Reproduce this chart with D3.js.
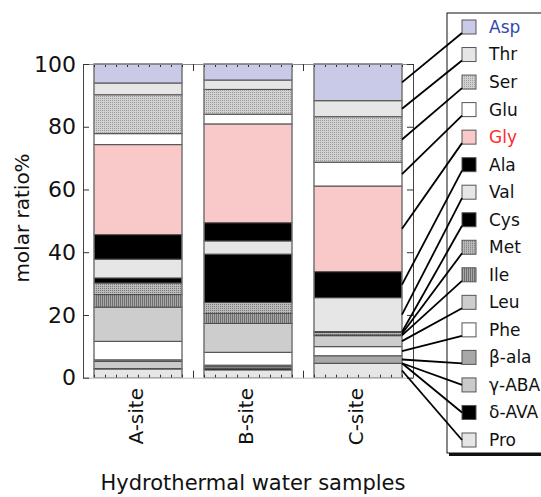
<!DOCTYPE html>
<html>
<head>
<meta charset="utf-8">
<script src="https://cdn.jsdelivr.net/npm/d3@7"></script>
<style>
  body { margin: 0; background: #fff; }
  text { font-family: "DejaVu Sans", sans-serif; }
</style>
</head>
<body>
<div id="chart"></div>
<script>
var sites = ['A-site', 'B-site', 'C-site'];
// legend order, top to bottom (stack order is the reverse)
var acids = ['Asp', 'Thr', 'Ser', 'Glu', 'Gly', 'Ala', 'Val', 'Cys', 'Met', 'Ile', 'Leu', 'Phe', 'β-ala', 'γ-ABA', 'δ-AVA', 'Pro'];
var aSite = [6.05, 3.75, 12.4, 3.5, 28.7, 7.8, 6.0, 1.6, 3.7, 4.0, 10.9, 5.9, 0.5, 2.3, 0.1, 2.8];
var bSite = [5.1, 3.0, 7.9, 3.1, 31.5, 5.8, 4.2, 15.4, 3.5, 3.2, 9.2, 4.1, 0.5, 0.5, 0.5, 2.5];
var cSite = [11.7, 5.1, 14.5, 7.6, 27.3, 8.3, 10.8, 0.3, 0.8, 0.2, 3.5, 2.9, 2.4, 0, 0, 4.6];
var yTicks = [0, 20, 40, 60, 80, 100];
var xlabel = 'Hydrothermal water samples';
var ylabel = 'molar ratio%';

var fills = {
  'Asp': '#c9c9e8', 'Thr': '#e6e6e6', 'Ser': 'url(#dots)', 'Glu': '#ffffff',
  'Gly': '#f9c9c9', 'Ala': '#000000', 'Val': '#e6e6e6', 'Cys': '#000000',
  'Met': 'url(#dotsDark)', 'Ile': 'url(#stripes)', 'Leu': '#cdcdcd', 'Phe': '#ffffff',
  'β-ala': '#a8a8a8', 'γ-ABA': '#cacaca', 'δ-AVA': '#000000', 'Pro': '#e6e6e6'
};
var textColor = { 'Asp': '#3347b0', 'Gly': '#ff2a2a' };

var width = 541, height = 497;
var svg = d3.select('#chart').append('svg')
      .attr('width', width)
      .attr('height', height);

// texture patterns
var defs = svg.append('defs');
var p1 = defs.append('pattern').attr('id', 'dots').attr('patternUnits', 'userSpaceOnUse')
      .attr('width', 2).attr('height', 2);
p1.append('rect').attr('width', 2).attr('height', 2).attr('fill', '#d2d2d2');
p1.append('rect').attr('width', 1).attr('height', 1).attr('fill', '#9a9a9a');
var p2 = defs.append('pattern').attr('id', 'dotsDark').attr('patternUnits', 'userSpaceOnUse')
      .attr('width', 2).attr('height', 2);
p2.append('rect').attr('width', 2).attr('height', 2).attr('fill', '#bbbbbb');
p2.append('rect').attr('width', 1).attr('height', 1).attr('fill', '#777777');
var p3 = defs.append('pattern').attr('id', 'stripes').attr('patternUnits', 'userSpaceOnUse')
      .attr('width', 2).attr('height', 2);
p3.append('rect').attr('width', 2).attr('height', 2).attr('fill', '#a8a8a8');
p3.append('rect').attr('width', 1).attr('height', 2).attr('fill', '#6e6e6e');

var x = d3.scaleLinear().domain([0, 3]).range([83, 413]);
var y = d3.scaleLinear().domain([0, 100]).range([377.7, 64]);
var barW = x(0.8) - x(0);

// rows for d3.stack
var table = sites.map(function (s, i) {
  var vals = [aSite, bSite, cSite][i];
  var row = { site: s };
  acids.forEach(function (a, j) { row[a] = vals[j]; });
  return row;
});
var stackKeys = acids.slice().reverse();
var series = d3.stack().keys(stackKeys)(table);

var layers = svg.selectAll('.layer')
      .data(series)
      .enter().append('g')
      .attr('class', 'layer')
      .attr('fill', function (d) { return fills[d.key]; });

layers.selectAll('rect')
  .data(function (d) { return d; })
  .enter().append('rect')
  .attr('x', function (d, i) { return x(i + 0.5) - barW / 2; })
  .attr('y', function (d) { return y(d[1]); })
  .attr('width', barW)
  .attr('height', function (d) { return y(d[0]) - y(d[1]); })
  .attr('stroke', '#4a4a4a')
  .attr('stroke-width', 1);

// bar side edges
svg.selectAll('.edge')
  .data(sites)
  .enter().append('rect')
  .attr('class', 'edge')
  .attr('x', function (d, i) { return x(i + 0.5) - barW / 2; })
  .attr('y', y(100))
  .attr('width', barW)
  .attr('height', y(0) - y(100))
  .attr('fill', 'none')
  .attr('stroke', '#888')
  .attr('stroke-width', 1);

// frame axes
var minor = d3.range(0, 30.5, 1).map(function (d) { return d / 10; });
var major = [0, 1, 2, 3];

function styleAxis(g, col) {
  g.selectAll('path').attr('stroke', col);
  g.selectAll('line').attr('stroke', '#333');
}

var top1 = svg.append('g').attr('transform', 'translate(0,' + y(100) + ')')
      .call(d3.axisTop(x).tickValues(minor).tickSizeInner(-3).tickSizeOuter(0).tickFormat(''));
styleAxis(top1, '#888');
var top2 = svg.append('g').attr('transform', 'translate(0,' + y(100) + ')')
      .call(d3.axisTop(x).tickValues(major).tickSizeInner(-7).tickSizeOuter(0).tickFormat(''));
styleAxis(top2, '#888');
var bot1 = svg.append('g').attr('transform', 'translate(0,' + y(0) + ')')
      .call(d3.axisBottom(x).tickValues(minor).tickSizeInner(-3).tickSizeOuter(0).tickFormat(''));
styleAxis(bot1, '#ccc');
var bot2 = svg.append('g').attr('transform', 'translate(0,' + y(0) + ')')
      .call(d3.axisBottom(x).tickValues(major).tickSizeInner(-7).tickSizeOuter(0).tickFormat(''));
styleAxis(bot2, '#ccc');

var left = svg.append('g').attr('transform', 'translate(' + x(0) + ',0)')
      .call(d3.axisLeft(y).tickValues(yTicks).tickSizeInner(-6).tickSizeOuter(0).tickPadding(7));
styleAxis(left, '#444');
left.selectAll('text').attr('font-size', 22).attr('fill', '#111')
  .attr('font-family', '"DejaVu Sans", sans-serif');

var right = svg.append('g').attr('transform', 'translate(' + x(3) + ',0)')
      .call(d3.axisRight(y).tickValues(yTicks).tickSizeInner(-6).tickSizeOuter(0).tickFormat(''));
styleAxis(right, '#444');

// category labels
svg.selectAll('.cat')
  .data(sites)
  .enter().append('text')
  .attr('class', 'cat')
  .attr('transform', function (d, i) { return 'translate(' + (x(i + 0.5) - 2) + ',388) rotate(-90)'; })
  .attr('text-anchor', 'end')
  .attr('dy', '0.35em')
  .attr('font-size', 20)
  .attr('fill', '#111')
  .text(function (d) { return d; });

svg.append('text')
  .attr('x', 253).attr('y', 490)
  .attr('text-anchor', 'middle')
  .attr('font-size', 21)
  .attr('fill', '#111')
  .text(xlabel);

svg.append('text')
  .attr('transform', 'translate(22,218) rotate(-90)')
  .attr('text-anchor', 'middle')
  .attr('dy', '0.35em')
  .attr('font-size', 20)
  .attr('fill', '#111')
  .text(ylabel);

// legend
var legTop = 13, legLeft = 447, legH = 440;
var rowY = d3.scaleLinear().domain([0, acids.length - 1]).range([27, 440]);

svg.append('rect')
  .attr('x', legLeft + 2).attr('y', legTop + 3)
  .attr('width', 120).attr('height', legH)
  .attr('fill', '#111');
svg.append('rect')
  .attr('x', legLeft).attr('y', legTop)
  .attr('width', 120).attr('height', legH)
  .attr('fill', '#fff')
  .attr('stroke', '#111')
  .attr('stroke-width', 1);

var leg = svg.selectAll('.leg')
      .data(acids)
      .enter().append('g')
      .attr('class', 'leg')
      .attr('transform', function (d, i) { return 'translate(0,' + rowY(i) + ')'; });

leg.append('rect')
  .attr('x', 462).attr('y', -7)
  .attr('width', 14).attr('height', 14)
  .attr('fill', function (d) { return fills[d]; })
  .attr('stroke', '#555')
  .attr('stroke-width', 1);

leg.append('text')
  .attr('x', 489).attr('dy', '0.35em')
  .attr('font-size', 17)
  .attr('fill', function (d) { return textColor[d] || '#111'; })
  .text(function (d) { return d; });

// leader lines from the C-site segments to the legend
var cSeg = {};
series.forEach(function (s) { cSeg[s.key] = s[2]; });

svg.selectAll('.leader')
  .data(acids)
  .enter().append('line')
  .attr('class', 'leader')
  .attr('x1', x(2.5) + barW / 2)
  .attr('y1', function (d) { return y((cSeg[d][0] + cSeg[d][1]) / 2); })
  .attr('x2', 462)
  .attr('y2', function (d, i) {
    var sy = y((cSeg[d][0] + cSeg[d][1]) / 2);
    return sy > rowY(i) ? rowY(i) + 6 : rowY(i);
  })
  .attr('stroke', '#000')
  .attr('stroke-width', 1.8);
</script>
</body>
</html>
